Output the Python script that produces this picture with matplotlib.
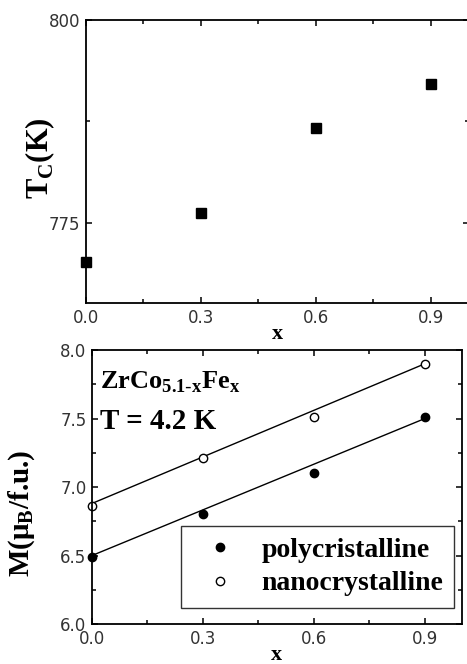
import numpy as np
import matplotlib
matplotlib.use("Agg")
import matplotlib.pyplot as plt
from matplotlib.ticker import MultipleLocator, FormatStrFormatter

# ---- data ----
x_tc = [0.0, 0.3, 0.6, 0.9]
tc_vals = [770.2, 776.2, 786.7, 792.1]

x_m = [0.0, 0.3, 0.6, 0.9]
m_poly = [6.49, 6.80, 7.10, 7.51]
m_nano = [6.86, 7.21, 7.51, 7.90]

# straight guide lines (intercept, slope) as drawn in the figure
line_poly = (6.50, 1.111)
line_nano = (6.88, 1.133)

SERIF = "Liberation Serif"

fig = plt.figure(figsize=(4.67, 6.64), dpi=100)


def style_axes(ax):
    for s in ax.spines.values():
        s.set_linewidth(1.3)
    ax.tick_params(which="both", direction="in", top=True, right=True,
                   width=1.1, labelsize=12, pad=4)
    ax.tick_params(which="major", length=4)
    ax.tick_params(which="minor", length=3)
    for lab in ax.get_xticklabels() + ax.get_yticklabels():
        lab.set_fontfamily("DejaVu Sans")
        lab.set_color("#333333")


# ---- top panel: Curie temperature ----
ax1 = fig.add_axes([0.184, 0.5437, 0.820, 0.4262])
ax1.plot(x_tc, tc_vals, "s", color="black", ms=7, clip_on=False)
ax1.set_xlim(0, 1.0)
ax1.set_ylim(765.1, 800)
ax1.xaxis.set_major_locator(MultipleLocator(0.3))
ax1.xaxis.set_minor_locator(MultipleLocator(0.15))
ax1.yaxis.set_major_locator(MultipleLocator(25))
ax1.yaxis.set_minor_locator(MultipleLocator(12.5))
ax1.xaxis.set_major_formatter(FormatStrFormatter("%.1f"))
ax1.yaxis.set_major_formatter(FormatStrFormatter("%d"))
style_axes(ax1)
ax1.set_xlabel("x", family=SERIF, weight="bold", size=16, labelpad=-2)
ax1.set_ylabel(r"T$_{\mathregular{C}}$(K)", family=SERIF, weight="bold",
               size=22)
ax1.yaxis.set_label_coords(-0.076, 0.51)

# ---- bottom panel: magnetisation ----
ax2 = fig.add_axes([0.197, 0.0602, 0.792, 0.4127])
xs = np.array([0.0, 0.9])
ax2.plot(xs, line_poly[0] + line_poly[1] * xs, color="black", lw=1.0)
ax2.plot(xs, line_nano[0] + line_nano[1] * xs, color="black", lw=1.0)
ax2.plot(x_m, m_poly, "o", color="black", ms=6, clip_on=False,
         label="polycristalline")
ax2.plot(x_m, m_nano, "o", mfc="white", mec="black", mew=1.0, ms=6,
         clip_on=False, label="nanocrystalline")
ax2.set_xlim(0, 1.0)
ax2.set_ylim(6.0, 8.0)
ax2.xaxis.set_major_locator(MultipleLocator(0.3))
ax2.xaxis.set_minor_locator(MultipleLocator(0.15))
ax2.yaxis.set_major_locator(MultipleLocator(0.5))
ax2.yaxis.set_minor_locator(MultipleLocator(0.25))
ax2.xaxis.set_major_formatter(FormatStrFormatter("%.1f"))
ax2.yaxis.set_major_formatter(FormatStrFormatter("%.1f"))
style_axes(ax2)
ax2.set_xlabel("x", family=SERIF, weight="bold", size=16, labelpad=-2)
ax2.set_ylabel(r"M($\mathregular{\mu_B}$/f.u.)", family=SERIF,
               weight="bold", size=21)
ax2.yaxis.set_label_coords(-0.15, 0.405)

ax2.text(0.022, 0.861,
         r"ZrCo$_{\mathregular{5.1\text{-}x}}$Fe$_{\mathregular{x}}$",
         transform=ax2.transAxes, family=SERIF, weight="bold", size=19,
         va="baseline")
ax2.text(0.022, 0.712, "T = 4.2 K", transform=ax2.transAxes, family=SERIF,
         weight="bold", size=21, va="baseline")

leg = ax2.legend(loc="lower right", bbox_to_anchor=(0.98, 0.06),
                 prop=dict(family=SERIF, weight="bold", size=20),
                 frameon=True, fancybox=False, edgecolor="black",
                 handletextpad=0.5, borderpad=0.4, labelspacing=0.3,
                 handlelength=2.0, borderaxespad=0)
leg.get_frame().set_linewidth(1.0)

fig.savefig("out.png", dpi=100)
